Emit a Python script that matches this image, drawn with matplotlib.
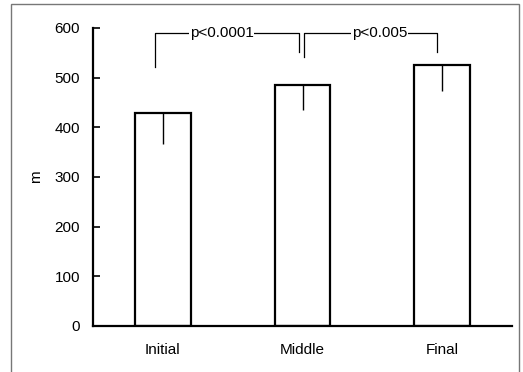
import numpy as np
import matplotlib
matplotlib.use("Agg")
import matplotlib.pyplot as plt
from matplotlib.patches import Rectangle

plt.rcParams['font.family'] = ['Liberation Sans', 'DejaVu Sans']

groups = ['Initial', 'Middle', 'Final']
means = [429, 485, 525]
errs = [63, 50, 52]
yticks = [0, 100, 200, 300, 400, 500, 600]

# significance brackets: (x_left, x_right, y_left_end, y_right_end, top, label_x, label)
brackets = [(-0.06, 0.975, 521, 551, 590, 0.42, 'p<0.0001'),
            (1.01, 1.964, 541, 551, 590, 1.55, 'p<0.005')]

fs = 11

fig = plt.figure(figsize=(5.23, 3.72), dpi=100)
ax = fig.add_axes([0.178, 0.124, 0.801, 0.801])

x = np.arange(len(groups))
ax.bar(x, means, width=0.4, color='white', edgecolor='black', linewidth=1.6, zorder=2)
ax.errorbar(x, means, yerr=[errs, [0] * len(errs)], fmt='none', ecolor='black',
            elinewidth=1.0, capsize=0, zorder=3)

for xl, xr, yl, yr, top, lx, lab in brackets:
    ax.plot([xl, xl, xr, xr], [yl, top, top, yr], color='black', lw=0.9,
            clip_on=False, zorder=3)
    t = ax.text(lx, top, lab, ha='center', va='center', fontsize=fs, zorder=4)
    t.set_bbox(dict(facecolor='white', edgecolor='none', pad=0.5))

ax.set_xlim(-0.5, 2.5)
ax.set_ylim(0, 600)
ax.set_yticks(yticks)
ax.set_xticks(x)
ax.set_xticklabels(groups, fontsize=fs)
ax.tick_params(axis='y', direction='in', length=5, width=1.2, labelsize=fs, pad=9.5)
ax.tick_params(axis='x', length=0, pad=12)
ax.set_ylabel('m', fontsize=fs, labelpad=8)

for s in ['top', 'right']:
    ax.spines[s].set_visible(False)
for s in ['left', 'bottom']:
    ax.spines[s].set_linewidth(1.6)

fig.patches.append(Rectangle((11 / 523, -0.01), 508 / 523, 1 - 4 / 372 + 0.01,
                             transform=fig.transFigure, fill=False,
                             edgecolor='#777777', lw=1.0))

fig.savefig('out.png', dpi=100)
